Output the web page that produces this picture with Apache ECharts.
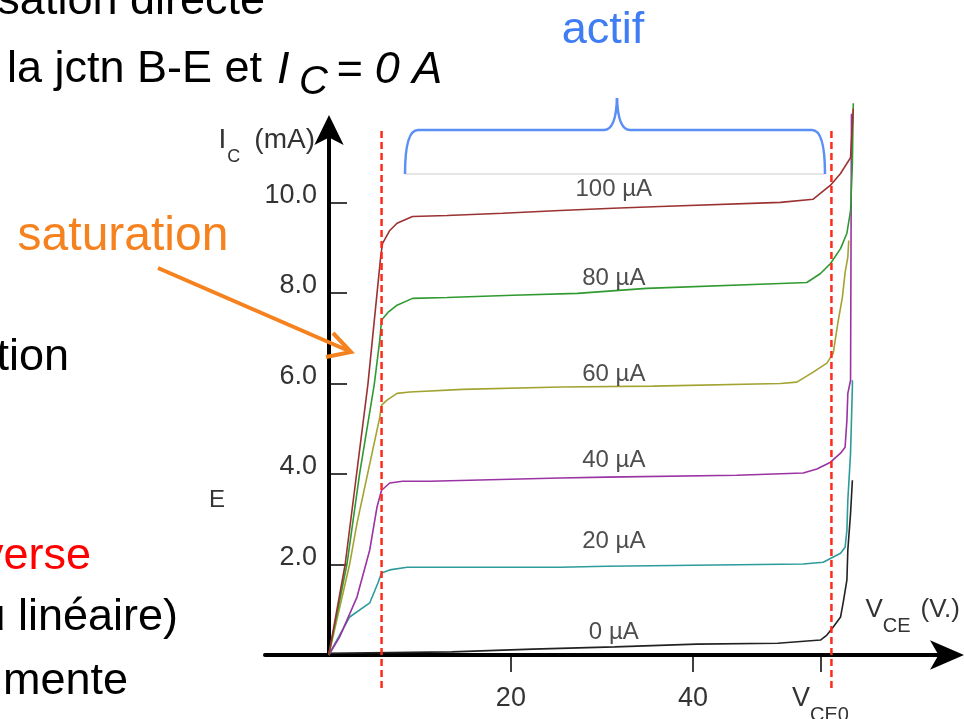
<!DOCTYPE html>
<html>
<head>
<meta charset="utf-8">
<script src="https://cdn.jsdelivr.net/npm/echarts@6/dist/echarts.min.js"></script>
<style>
   html, body { margin: 0 ; padding: 0 ; background: #fff ; }
   #main { width: 964px ; height: 719px ; }
</style>
</head>
<body>
<div id="main"></div>
<script>
(function(){
   //données : [ VCE (V), IC (mA) ]
   var curveNames = [ '0 µA', '20 µA', '40 µA', '60 µA', '80 µA', '100 µA' ] ;
   var ib0 = [ [0,0.04],[13.5,0.07],[22.4,0.13],[31.4,0.18],[40.4,0.24],[49.3,0.26],[54.0,0.33],[54.7,0.44],[55.4,0.62],[56.2,0.84],[56.5,1.17],[56.9,1.66],[57.0,2.32],[57.3,3.13],[57.5,3.86] ] ;
   var ib20 = [ [0,0],[2.3,0.84],[4.5,1.15],[5.4,1.59],[5.8,1.81],[6.7,1.88],[8.6,1.94],[11.1,1.94],[25.4,1.94],[30.5,1.96],[52.1,2.01],[54.3,2.05],[56.2,2.25],[56.7,2.38],[56.9,2.76],[57.0,3.42],[57.3,4.46],[57.5,5.92],[57.5,6.07] ] ;
   var ib40 = [ [0,0],[1.2,0.40],[3.1,1.28],[4.5,2.32],[5.3,3.27],[5.8,3.64],[6.7,3.80],[8.1,3.84],[11.1,3.84],[25.4,3.91],[30.5,3.93],[44.8,3.97],[52.1,4.02],[53.6,4.11],[55.1,4.26],[56.2,4.46],[56.7,4.59],[56.9,5.19],[57.0,5.78],[57.3,6.07],[57.4,11.96] ] ;
   var ib60 = [ [0,0],[2.3,2.01],[3.1,2.91],[5.6,5.25],[5.8,5.52],[6.4,5.63],[7.5,5.78],[8.9,5.81],[14.7,5.87],[25.4,5.92],[35.6,5.94],[49.6,6.00],[51.4,6.03],[53.2,6.25],[54.7,6.45],[55.4,6.67],[55.9,7.33],[56.4,7.90],[56.7,8.45],[57.0,8.79],[57.1,9.16] ] ;
   var ib80 = [ [0,0],[2.0,2.01],[3.4,4.02],[5.0,5.98],[5.6,6.95],[5.8,7.40],[6.5,7.57],[7.5,7.73],[9.2,7.88],[13.0,7.90],[20.2,7.95],[27.3,7.99],[34.9,8.10],[49.6,8.21],[52.5,8.23],[54.0,8.43],[55.1,8.65],[56.2,8.98],[56.9,9.32],[57.3,9.82],[57.5,10.86],[57.6,12.19] ] ;
   var ib100 = [ [0,0],[1.8,2.00],[4.3,5.98],[5.7,8.79],[5.9,9.09],[6.7,9.38],[7.5,9.54],[9.2,9.69],[13.0,9.71],[19.1,9.76],[25.4,9.82],[31.2,9.87],[36.4,9.91],[49.6,10.00],[53.2,10.07],[55.1,10.38],[56.2,10.64],[57.3,10.99],[57.5,11.70],[57.6,12.07] ] ;
   var curves = [ ib0, ib20, ib40, ib60, ib80, ib100 ] ;
   //étiquettes des courbes
   var labelVce = 31.3 ;
   var labelIc = [ 0.51, 2.52, 4.30, 6.20, 8.32, 10.29 ] ;
   //graduations
   var vceTicks = [ 20, 40, 54 ] ;
   var vceo = 54 ;
   var icTicks = [ 2, 4, 6, 8, 10 ] ;
   //limites saturation / actif
   var vceSat = 5.8 ;
   var vceBreak = 55.2 ;
   var limitIc = [ -0.73, 11.61 ] ;

   var colors = [ '#222222', '#2e9b9b', '#9a33a3', '#a3a332', '#2f9a2f', '#9b3232' ] ;
   var axisFont = '"Liberation Sans", Arial, sans-serif' ;
   var slideFont = '"Liberation Sans", Arial, sans-serif' ;

   function $each( arr, fn )
   {
      for( var i = 0 ; i < arr.length ; ++i ) fn( i, arr[i] ) ;
   }

   var series = [] ;
   $each( curves, function( i, data ){
      series.push( {
         type: 'line', name: curveNames[i], data: data, symbol: 'none', clip: false, z: 3,
         lineStyle: { color: colors[i], width: 1.6 }
      } ) ;
   } ) ;
   $each( [ vceSat, vceBreak ], function( i, v ){
      series.push( {
         type: 'line', data: [ [ v, limitIc[0] ], [ v, limitIc[1] ] ], symbol: 'none', clip: false, z: 4,
         lineStyle: { color: '#ff2a1a', width: 2.5, type: [ 7, 4 ] }
      } ) ;
   } ) ;
   var labelData = [] ;
   $each( labelIc, function( i, ic ){
      labelData.push( [ labelVce, ic, curveNames[i] ] ) ;
   } ) ;
   series.push( {
      type: 'scatter', data: labelData, symbolSize: 0, clip: false, z: 5,
      label: { show: true, position: 'inside', formatter: function( p ){ return p.data[2] ; },
               fontSize: 24, fontFamily: axisFont, color: '#222' }
   } ) ;

   function slideText( txt, x, y, size, color, align, italic )
   {
      return {
         type: 'text', x: x, y: y, z: 10,
         style: { text: txt, font: ( italic ? 'italic ' : '' ) + size + 'px ' + slideFont,
                  fill: color, textAlign: align, textVerticalAlign: 'middle' }
      } ;
   }
   function braceLine( x1, y1, x2, y2 )
   {
      return { type: 'line', z: 10, shape: { x1: x1, y1: y1, x2: x2, y2: y2 },
               style: { stroke: '#5b8ff5', lineWidth: 2.5 } } ;
   }
   function braceCurve( x1, y1, cx, cy, x2, y2 )
   {
      return { type: 'bezierCurve', z: 10, shape: { x1: x1, y1: y1, cpx1: cx, cpy1: cy, x2: x2, y2: y2 },
               style: { fill: 'none', stroke: '#5b8ff5', lineWidth: 2.5 } } ;
   }

   var chart = echarts.init( document.getElementById( 'main' ), null, { renderer: 'canvas' } ) ;
   chart.setOption( {
      animation: false,
      backgroundColor: '#fff',
      grid: { left: 265, right: 16, top: 130, bottom: 64, outerBoundsMode: 'none' },
      xAxis: {
         type: 'value', min: -7, max: 68,
         name: '{i|V}{s|CE}{i|(V.)}', nameLocation: 'end', nameGap: 12,
         nameTextStyle: {
            align: 'right', verticalAlign: 'bottom', padding: [ 0, 0, 30, 0 ],
            rich: {
               i: { fontSize: 26, lineHeight: 30, fontFamily: axisFont, color: '#333' },
               s: { fontSize: 20, lineHeight: 14, padding: [ 32, 10, 0, 0 ], fontFamily: axisFont, color: '#333' }
            }
         },
         axisLine: { show: true, onZero: true, symbol: [ 'none', 'arrow' ], symbolSize: [ 22, 34 ],
                     symbolOffset: [ 0, 16 ], lineStyle: { color: '#000', width: 4 } },
         axisTick: { show: true, customValues: vceTicks, length: 17, lineStyle: { color: '#000', width: 1.5 } },
         axisLabel: {
            customValues: vceTicks, margin: 21,
            formatter: function( v ){ return v === vceo ? '{n|V}{s|CE0}' : '{n|' + v + '}' ; },
            rich: {
               n: { fontSize: 27, lineHeight: 46, fontFamily: axisFont, color: '#333' },
               s: { fontSize: 20, lineHeight: 14, padding: [ 32, 0, 0, 0 ], fontFamily: axisFont, color: '#333' }
            }
         },
         splitLine: { show: false }
      },
      yAxis: {
         type: 'value', min: 0, max: 11.6, offset: -64,
         name: '{i|I}{s|C}{i|(mA)}', nameLocation: 'end', nameGap: -10,
         nameTextStyle: {
            align: 'right', verticalAlign: 'middle', padding: [ 0, 14, 0, 0 ],
            rich: {
               i: { fontSize: 28, lineHeight: 30, fontFamily: axisFont, color: '#333' },
               s: { fontSize: 18, lineHeight: 14, padding: [ 34, 14, 0, 1 ], fontFamily: axisFont, color: '#333' }
            }
         },
         axisLine: { show: true, onZero: false, symbol: [ 'none', 'arrow' ], symbolSize: [ 22, 30 ],
                     symbolOffset: [ 0, 15 ], lineStyle: { color: '#000', width: 4 } },
         axisTick: { show: true, inside: true, customValues: icTicks, length: 18, lineStyle: { color: '#000', width: 1.5 } },
         axisLabel: {
            customValues: icTicks, margin: 12,
            formatter: function( v ){ return '{n|' + v.toFixed( 1 ) + '}' ; },
            rich: {
               n: { fontSize: 27, lineHeight: 26, padding: [ 0, 0, 14, 0 ], fontFamily: axisFont, color: '#333' }
            }
         },
         splitLine: { show: false }
      },
      series: series,
      graphic: [
         slideText( 'sation directe', 265, 2, 45, '#000', 'right' ),
         slideText( 'la jctn B-E et', 7, 70, 45, '#000', 'left' ),
         slideText( 'I', 277, 70, 45, '#000', 'left', true ),
         slideText( 'C', 299, 83, 40, '#000', 'left', true ),
         slideText( '= 0 A', 336, 70, 45, '#000', 'left', true ),
         slideText( 'actif', 603, 31, 45, '#3f7df4', 'center' ),
         slideText( 'saturation', 123, 237, 48, '#f5821f', 'center' ),
         slideText( 'tion', 69, 358, 45, '#000', 'right' ),
         slideText( 'E', 209, 500, 24, '#333', 'left' ),
         slideText( 'verse', 91, 557, 45, '#ff0000', 'right' ),
         slideText( 'u linéaire)', 178, 618, 45, '#000', 'right' ),
         slideText( 'mente', 128, 682, 45, '#000', 'right' ),
         //accolade "actif"
         braceCurve( 405, 174, 405, 130, 418, 130 ),
         braceLine( 418, 130, 604, 130 ),
         braceCurve( 604, 130, 616, 130, 617, 98 ),
         braceCurve( 617, 98, 618, 130, 630, 130 ),
         braceLine( 630, 130, 812, 130 ),
         braceCurve( 812, 130, 825, 130, 825, 174 ),
         {
            type: 'line', z: 9,
            shape: { x1: 405, y1: 174, x2: 825, y2: 174 },
            style: { stroke: '#cccccc', lineWidth: 1 }
         },
         //flèche "saturation"
         {
            type: 'line', z: 10,
            shape: { x1: 158, y1: 268, x2: 349, y2: 351 },
            style: { stroke: '#f5821f', lineWidth: 4 }
         },
         {
            type: 'polyline', z: 10,
            shape: { points: [ [ 333, 333 ], [ 351, 352 ], [ 326, 357 ] ] },
            style: { fill: 'none', stroke: '#f5821f', lineWidth: 4 }
         }
      ]
   } ) ;
}());
</script>
</body>
</html>
